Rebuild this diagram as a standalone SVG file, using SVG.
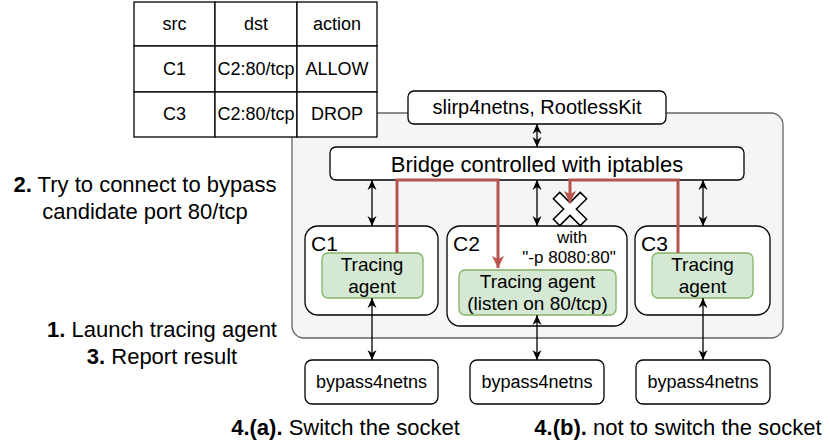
<svg xmlns="http://www.w3.org/2000/svg" width="830" height="446" viewBox="0 0 830 446">
<style>
text{font-family:"Liberation Sans",Arial,sans-serif;fill:#000}
.box{fill:#fff;stroke:#000;stroke-width:1.3}
.agent{fill:#d5e8d4;stroke:#82b366;stroke-width:1.3}
.cell{fill:#fff;stroke:#000;stroke-width:1.3}
.c{text-anchor:middle}
.blk{fill:none;stroke:#000;stroke-width:1.3;marker-start:url(#ah);marker-end:url(#ah)}
.red{fill:none;stroke:#b85450;stroke-width:3;marker-end:url(#rh)}
</style>
<defs>
<marker id="ah" markerUnits="userSpaceOnUse" markerWidth="12" markerHeight="10" refX="10" refY="5" orient="auto-start-reverse">
<path d="M0,0.5 L10,5 L0,9.5 L3,5 z" fill="#000"/>
</marker>
<marker id="rh" markerUnits="userSpaceOnUse" markerWidth="14" markerHeight="14" refX="12" refY="6.5" orient="auto">
<path d="M0,0.5 L12,6.5 L0,12.5 L3,6.5 z" fill="#b85450"/>
</marker>
</defs>

<g id="host">
<rect x="292" y="113" width="491" height="225" rx="12" fill="#f5f5f5" stroke="#666" stroke-width="1.3"/>
</g>

<g id="table">
<rect class="cell" x="134" y="2" width="81" height="44"/>
<rect class="cell" x="215" y="2" width="82" height="44"/>
<rect class="cell" x="297" y="2" width="80" height="44"/>
<rect class="cell" x="134" y="46" width="81" height="46"/>
<rect class="cell" x="215" y="46" width="82" height="46"/>
<rect class="cell" x="297" y="46" width="80" height="46"/>
<rect class="cell" x="134" y="92" width="81" height="45"/>
<rect class="cell" x="215" y="92" width="82" height="45"/>
<rect class="cell" x="297" y="92" width="80" height="45"/>
<text class="c" x="174.5" y="30" font-size="18">src</text>
<text class="c" x="256" y="30" font-size="18">dst</text>
<text class="c" x="337" y="30" font-size="18">action</text>
<text class="c" x="174.5" y="75" font-size="18">C1</text>
<text class="c" x="256" y="75" font-size="18">C2:80/tcp</text>
<text class="c" x="337" y="75" font-size="18">ALLOW</text>
<text class="c" x="174.5" y="120" font-size="18">C3</text>
<text class="c" x="256" y="120" font-size="18">C2:80/tcp</text>
<text class="c" x="337" y="120" font-size="18">DROP</text>
</g>

<g id="slirp">
<rect class="box" x="408" y="91" width="258" height="33" rx="6"/>
<text class="c" x="537" y="114" font-size="20">slirp4netns, RootlessKit</text>
</g>

<g id="bridge">
<rect class="box" x="330" y="147" width="414" height="33" rx="6"/>
<text class="c" x="537" y="172" font-size="22">Bridge controlled with iptables</text>
</g>

<g id="c1">
<rect class="box" x="305" y="226" width="133" height="89" rx="13"/>
<text x="311" y="251" font-size="21">C1</text>
</g>
<g id="c2">
<rect class="box" x="447" y="226" width="180" height="100" rx="13"/>
<text x="453" y="251" font-size="21">C2</text>
<text class="c" x="572" y="243" font-size="17">with</text>
<text class="c" x="569" y="263" font-size="17">"-p 8080:80"</text>
</g>
<g id="c3">
<rect class="box" x="635" y="226" width="135" height="89" rx="13"/>
<text x="641" y="251" font-size="21">C3</text>
</g>

<g id="agent1">
<rect class="agent" x="322" y="253" width="101" height="45" rx="6"/>
<text class="c" x="372" y="271" font-size="19">Tracing</text>
<text class="c" x="372" y="293" font-size="19">agent</text>
</g>
<g id="agent2">
<rect class="agent" x="459" y="270" width="157" height="45" rx="6"/>
<text class="c" x="537.5" y="288" font-size="19">Tracing agent</text>
<text class="c" x="537.5" y="310" font-size="19">(listen on 80/tcp)</text>
</g>
<g id="agent3">
<rect class="agent" x="652" y="253" width="101" height="45" rx="6"/>
<text class="c" x="702.5" y="271" font-size="19">Tracing</text>
<text class="c" x="702.5" y="293" font-size="19">agent</text>
</g>

<g id="bypass1">
<rect class="box" x="305" y="360" width="133" height="44" rx="7"/>
<text class="c" x="371.5" y="388" font-size="18">bypass4netns</text>
</g>
<g id="bypass2">
<rect class="box" x="470" y="360" width="134" height="44" rx="7"/>
<text class="c" x="537" y="388" font-size="18">bypass4netns</text>
</g>
<g id="bypass3">
<rect class="box" x="636" y="360" width="134" height="44" rx="7"/>
<text class="c" x="703" y="388" font-size="18">bypass4netns</text>
</g>

<g id="blocked">
<polygon transform="translate(570,209) rotate(45)" points="-4.5,-19 4.5,-19 4.5,-4.5 19,-4.5 19,4.5 4.5,4.5 4.5,19 -4.5,19 -4.5,4.5 -19,4.5 -19,-4.5 -4.5,-4.5" fill="#fff" stroke="#000" stroke-width="1.5"/>
</g>

<g id="connectors">
<path class="blk" d="M537,124 L537,147"/>
<path class="blk" d="M372,180 L372,226"/>
<path class="blk" d="M537,180 L537,226"/>
<path class="blk" d="M703,180 L703,226"/>
<path class="blk" d="M372,298 L372,360"/>
<path class="blk" d="M537,315 L537,360"/>
<path class="blk" d="M703,298 L703,360"/>
<path class="red" d="M397,253 L397,180 L498,180 L498,268"/>
<path class="red" d="M678,253 L678,180 L570,180 L570,203"/>
</g>

<g id="labels">
<text class="c" x="145" y="192" font-size="22"><tspan font-weight="bold">2.</tspan> Try to connect to bypass</text>
<text class="c" x="145" y="219" font-size="22">candidate port 80/tcp</text>
<text class="c" x="162" y="337" font-size="22"><tspan font-weight="bold">1.</tspan> Launch tracing agent</text>
<text class="c" x="162" y="364" font-size="22"><tspan font-weight="bold">3.</tspan> Report result</text>
<text class="c" x="345.5" y="435" font-size="22"><tspan font-weight="bold">4.(a).</tspan> Switch the socket</text>
<text class="c" x="678" y="435" font-size="22"><tspan font-weight="bold">4.(b).</tspan> not to switch the socket</text>
</g>
</svg>
